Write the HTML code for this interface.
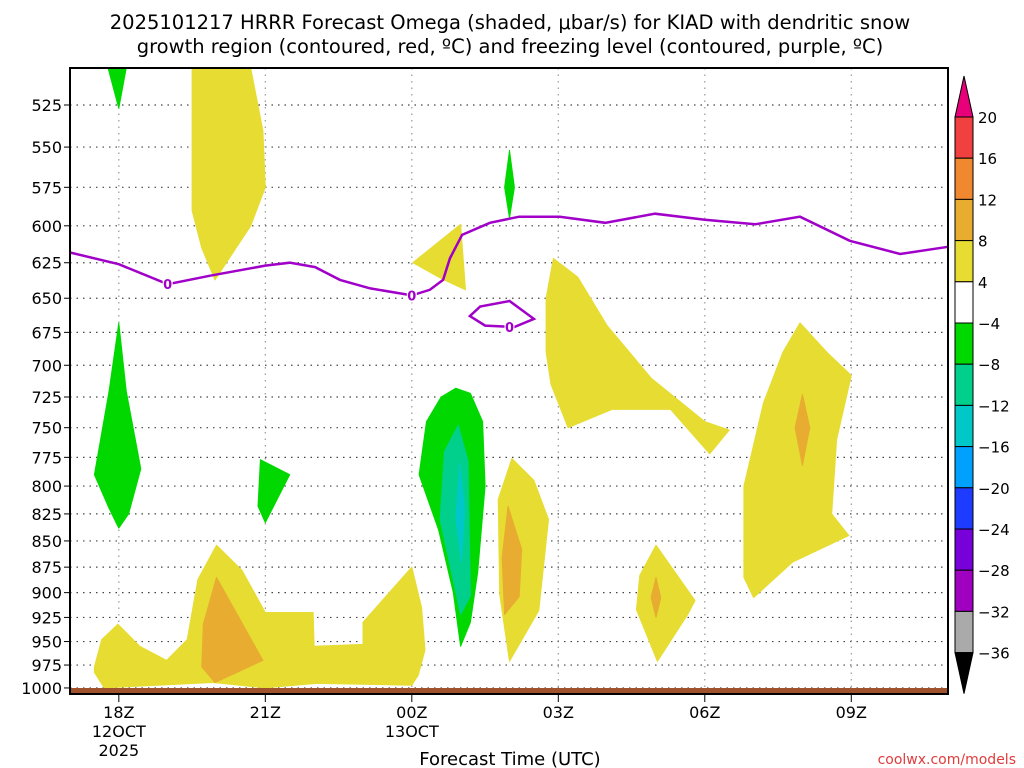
<!DOCTYPE html>
<html><head><meta charset="utf-8"><style>
html,body{margin:0;padding:0;background:#fff;}
svg{display:block;font-family:"DejaVu Sans","Liberation Sans",sans-serif;}
</style></head><body>
<svg id="chart" width="1024" height="768" viewBox="0 0 1024 768" xmlns="http://www.w3.org/2000/svg">
<text x="510" y="29" font-size="19.5" text-anchor="middle">2025101217 HRRR Forecast Omega (shaded, μbar/s) for KIAD with dendritic snow</text>
<text x="510" y="53" font-size="19.5" text-anchor="middle">growth region (contoured, red, ºC) and freezing level (contoured, purple, ºC)</text>
<g id="gridG"></g>
<g id="fillsG"></g>
<g id="linesG"></g>
<rect x="70" y="688" width="878" height="6" fill="#a0522d"/>
<rect x="70" y="68" width="878" height="626" fill="none" stroke="#000" stroke-width="2"/>
<g id="axesG"></g>
<g id="cbarG"></g>
<text x="510" y="765" font-size="18" text-anchor="middle">Forecast Time (UTC)</text>
<text x="1016" y="764" font-size="14" fill="#e03c3c" text-anchor="end">coolwx.com/models</text>
</svg>
<script>
const pLevels=[525,550,575,600,625,650,675,700,725,750,775,800,825,850,875,900,925,950,975,1000];
const xTickHours=[18,21,24,27,30,33];
const xTickLabels=[["18Z","12OCT","2025"],["21Z"],["00Z","13OCT"],["03Z"],["06Z"],["09Z"]];
const cbLevels=[20,16,12,8,4,-4,-8,-12,-16,-20,-24,-28,-32,-36];
const cbColors=["#f04040","#f08830","#e8ac30","#e6dc32","#ffffff","#00d800","#00d08c","#00c8c8","#00a0ff","#1e3cff","#7800d8","#a000c0","#aaaaaa"];
const yellow=[[[19.5,504],[20.7,504],[20.95,540],[21,575],[20.7,600],[20.3,620],[19.97,637],[19.7,615],[19.5,590]],
 [[24.02,625],[25.0,599],[25.1,644],[24.6,636]],
 [[26.9,622],[27.4,635],[28.0,670],[28.9,710],[30.0,745],[30.5,752],[30.1,772],[29.3,735],[28.1,735],[27.2,750],[26.85,715],[26.75,690],[26.75,650]],
 [[31.95,668],[32.5,690],[33,708],[32.7,760],[32.6,825],[32.95,845],[31.8,870],[31,905],[30.8,885],[30.8,800],[31.2,730],[31.6,690]],
 [[26.05,776],[26.5,795],[26.8,830],[26.6,918],[26.0,971],[25.8,902],[25.77,812]],
 [[29,854],[29.8,908],[29.65,922],[29.03,971],[28.6,917],[28.67,883]],
 [[17.5,977],[17.65,948],[17.98,932],[18.43,955],[18.98,970],[19.4,948],[19.62,887],[20.0,854],[20.52,878],[21,920],[21.98,920],[22.0,955],[23,953],[23,930],[24,875],[24.2,915],[24.27,959],[24.13,986],[24,997],[22.05,995],[21.0,1000],[19.93,994],[17.7,1000],[17.5,983]]];
const orange=[[[32,723],[32.15,750],[32,782],[31.85,750]],
 [[25.97,818],[26.25,858],[26.2,904],[25.9,922],[25.85,866]],
 [[29,885],[29.1,905],[29,925],[28.9,905]],
 [[20,885],[20.95,970],[19.97,994],[19.7,977],[19.73,932]]];
const green=[[[17.78,504],[18.15,504],[18.0,527]],
 [[26,552],[26.1,575],[26,595],[25.9,575]],
 [[18,668],[18.15,720],[18.45,785],[18.2,825],[18,838],[17.8,820],[17.5,790],[17.8,720]],
 [[20.9,777],[21.5,790],[21,833],[20.85,818]],
 [[24.9,718],[25.2,722],[25.45,745],[25.5,800],[25.35,880],[25.2,930],[25,955],[24.85,900],[24.55,840],[24.15,790],[24.3,745],[24.6,725]]];
const teal=[[[24.95,748],[25.15,778],[25.2,903],[25,922],[24.58,830],[24.67,770]]];
const cyan=[[[24.98,780],[25.08,820],[25.02,870],[24.9,830]]];
const frzLine=[[17,618],[18,626],[19,640],[19.87,634],[21,627],[21.5,625],[22.02,628],[22.53,637],[23.15,643],[24,648],[24.37,644],[24.64,637],[24.78,622],[25.03,606],[25.6,598],[26.2,594],[27.03,594],[27.96,598],[28.98,592],[30,596],[31.03,599],[31.95,594],[32.97,610],[34,619],[35,614]];
const frzLoop=[[25.19,663],[25.4,656],[26.0,652],[26.5,665],[26.1,671],[25.5,670]];
const frzLabels=[[19,640],[24,648],[26,671]];

const NS="http://www.w3.org/2000/svg";
const X=h=>70+48.83*(h-17);
const Y=p=>105+904.7*Math.log(p/525);
function mk(tag,attrs,parent){const e=document.createElementNS(NS,tag);for(const k in attrs)e.setAttribute(k,attrs[k]);parent.appendChild(e);return e;}
const gridG=document.getElementById('gridG'),axesG=document.getElementById('axesG'),fillsG=document.getElementById('fillsG'),linesG=document.getElementById('linesG'),cbarG=document.getElementById('cbarG');
pLevels.forEach(p=>{
 const l=mk('line',{x1:70,x2:948,y1:Y(p),y2:Y(p),stroke:'#444','stroke-width':1.2,'stroke-dasharray':'1.5,5'},gridG);
 
 
 const t=mk('text',{x:62,y:Y(p)+6,'font-size':16,'text-anchor':'end'},axesG);t.textContent=p;
 
 
 const tk=mk('line',{x1:64,x2:70,y1:Y(p),y2:Y(p),stroke:'#000'},axesG);
 
 
});
xTickHours.forEach((h,i)=>{
 const l=mk('line',{x1:X(h),x2:X(h),y1:68,y2:694,stroke:'#999','stroke-width':1.2,'stroke-dasharray':'1.5,5'},gridG);
 
 
 const tk=mk('line',{x1:X(h),x2:X(h),y1:694,y2:702,stroke:'#000'},axesG);
 
 
 xTickLabels[i].forEach((s,j)=>{const t=mk('text',{x:X(h),y:718+j*19,'font-size':16,'text-anchor':'middle'},axesG);t.textContent=s;
  
  });
});
function poly(arr,color,name){arr.forEach(pts=>{
 const e=mk('polygon',{points:pts.map(q=>X(q[0]).toFixed(1)+','+Y(q[1]).toFixed(1)).join(' '),fill:color,'stroke':color,'stroke-width':1,'stroke-linejoin':'round'},fillsG);
 
 });}
poly(yellow,'#e6dc32','omega-4-8');poly(orange,'#e8ac30','omega-8-12');
poly(green,'#00d800','omega-neg4-neg8');poly(teal,'#00d08c','omega-neg8-neg12');poly(cyan,'#00c8c8','omega-neg12-neg16');
const fl=mk('polyline',{points:frzLine.map(q=>X(q[0]).toFixed(1)+','+Y(q[1]).toFixed(1)).join(' '),fill:'none',stroke:'#a000c8','stroke-width':2.5},linesG);


const lp=mk('polygon',{points:frzLoop.map(q=>X(q[0]).toFixed(1)+','+Y(q[1]).toFixed(1)).join(' '),fill:'none',stroke:'#a000c8','stroke-width':2.5},linesG);


frzLabels.forEach(q=>{const r=mk('rect',{x:X(q[0])-5,y:Y(q[1])-7,width:10,height:14,fill:'#fff'},linesG);
 
 
 const t=mk('text',{x:X(q[0]),y:Y(q[1])+5,'font-size':13,'font-weight':'bold',fill:'#a000c8','text-anchor':'middle'},linesG);t.textContent='0';
 
 });
const cbx=955,cbw=18,cby0=117,cbStep=41.2;
const cbTop=mk('polygon',{points:`${cbx},${cby0} ${cbx+cbw},${cby0} ${cbx+cbw/2},${cby0-41}`,fill:'#e8007a',stroke:'#000'},cbarG);


cbColors.forEach((c,i)=>{const r=mk('rect',{x:cbx,y:cby0+i*cbStep,width:cbw,height:cbStep,fill:c,stroke:'#000','stroke-width':1},cbarG);
 
 });
const cbyb=cby0+cbColors.length*cbStep;
const cbBot=mk('polygon',{points:`${cbx},${cbyb} ${cbx+cbw},${cbyb} ${cbx+cbw/2},${cbyb+41}`,fill:'#000',stroke:'#000'},cbarG);


cbLevels.forEach((v,i)=>{const t=mk('text',{x:978,y:cby0+i*cbStep+6,'font-size':15},cbarG);t.textContent=v<0?'\u2212'+(-v):String(v);
 
 });
</script>
</body></html>
